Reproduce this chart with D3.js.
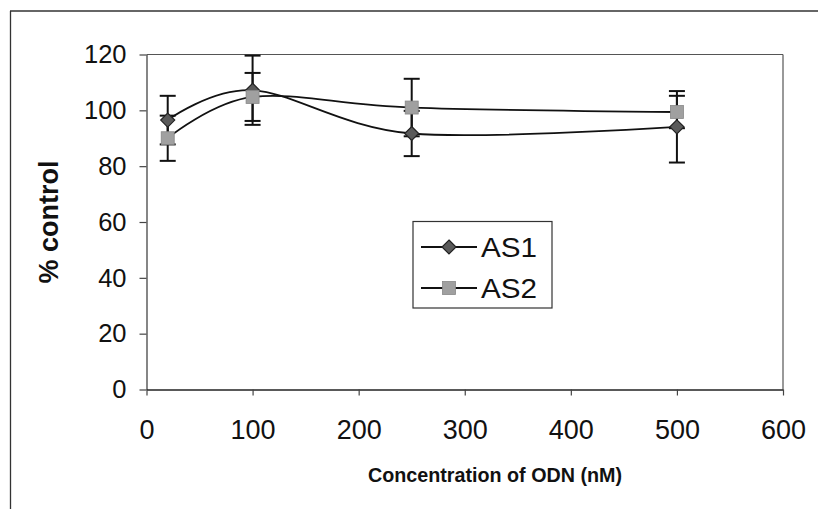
<!DOCTYPE html>
<html>
<head>
<meta charset="utf-8">
<script src="https://cdn.jsdelivr.net/npm/d3@7"></script>
<style>
  html, body { margin: 0; padding: 0; background: #fff; }
  svg { display: block; }
  text { font-family: "Liberation Sans", Arial, sans-serif; fill: #111; }
</style>
</head>
<body>
<svg id="chart" width="818" height="509"></svg>
<script>
// ---- data ----
const concentrations = [20, 100, 250, 500];
const as1Values = [96.5, 107.2, 91.7, 94.1];
const as1Errors = [8.7, 12.4, 8.1, 12.8];
const as2Values = [90, 104.8, 101, 99.4];
const as2Errors = [8.1, 8.6, 10.3, 5.8];
const seriesNames = ["AS1", "AS2"];
const xTicks = [0, 100, 200, 300, 400, 500, 600];
const yTicks = [0, 20, 40, 60, 80, 100, 120];
const xTitle = "Concentration of ODN (nM)";
const yTitle = "% control";

const series = [
  { name: seriesNames[0], values: as1Values, errors: as1Errors, marker: "diamond", fill: "#5a5a5a" },
  { name: seriesNames[1], values: as2Values, errors: as2Errors, marker: "square", fill: "#a0a0a0" }
];

const svg = d3.select("#chart");
const W = 818, H = 509;
const plot = { left: 146.5, right: 783, top: 54.5, bottom: 389.5 };

// outer frame (left and top edges)
svg.append("line").attr("x1", 10.5).attr("y1", 11).attr("x2", 10.5).attr("y2", H)
  .attr("stroke", "#333").attr("stroke-width", 1.3);
svg.append("line").attr("x1", 10).attr("y1", 11).attr("x2", W).attr("y2", 11)
  .attr("stroke", "#333").attr("stroke-width", 1.3);

const x = d3.scaleLinear().domain([0, 600]).range([plot.left, plot.right]);
const y = d3.scaleLinear().domain([0, 120]).range([plot.bottom, plot.top]);

// plot frame top/right
svg.append("line").attr("x1", plot.left).attr("y1", plot.top).attr("x2", plot.right).attr("y2", plot.top)
  .attr("stroke", "#555").attr("stroke-width", 1.2);
svg.append("line").attr("x1", plot.right).attr("y1", plot.top).attr("x2", plot.right).attr("y2", plot.bottom)
  .attr("stroke", "#555").attr("stroke-width", 1.2);

// y axis
const yAxis = svg.append("g").attr("transform", `translate(${plot.left},0)`)
  .call(d3.axisLeft(y).tickValues(yTicks).tickSize(7).tickSizeOuter(0).tickPadding(13));
yAxis.select(".domain").attr("stroke", "#444").attr("stroke-width", 1.3);
yAxis.selectAll(".tick line").attr("stroke", "#444").attr("stroke-width", 1.2);
yAxis.selectAll(".tick text").attr("font-size", 25.5).attr("fill", "#111")
  .style("font-family", "'Liberation Sans', Arial, sans-serif");

// x axis
const xAxis = svg.append("g").attr("transform", `translate(0,${plot.bottom})`)
  .call(d3.axisBottom(x).tickValues(xTicks).tickSize(6).tickSizeOuter(0).tickPadding(24));
xAxis.select(".domain").attr("stroke", "#222").attr("stroke-width", 1.5);
xAxis.selectAll(".tick line").attr("stroke", "#444").attr("stroke-width", 1.2);
xAxis.selectAll(".tick text").attr("font-size", 27).attr("fill", "#111")
  .style("font-family", "'Liberation Sans', Arial, sans-serif");

// axis titles
svg.append("text").attr("x", 495).attr("y", 482).attr("text-anchor", "middle")
  .attr("font-size", 21).attr("font-weight", "bold")
  .attr("textLength", 254).attr("lengthAdjust", "spacingAndGlyphs")
  .text(xTitle);
svg.append("text").attr("transform", "translate(58,222) rotate(-90)").attr("text-anchor", "middle")
  .attr("font-size", 27).attr("font-weight", "bold").text(yTitle);

// lines
const line = d3.line().x(d => x(d[0])).y(d => y(d[1])).curve(d3.curveCardinal.tension(0));

function drawMarker(g, type, cx, cy, fill) {
  if (type === "diamond") {
    const r = 7;
    g.append("path").attr("d", `M${cx},${cy - r}L${cx + r},${cy}L${cx},${cy + r}L${cx - r},${cy}Z`)
      .attr("fill", fill).attr("stroke", "#222").attr("stroke-width", 1.2);
  } else {
    const s = 13;
    g.append("rect").attr("x", cx - s / 2).attr("y", cy - s / 2).attr("width", s).attr("height", s)
      .attr("fill", fill).attr("stroke", "#888").attr("stroke-width", 0.8);
  }
}

series.forEach(s => {
  const pts = concentrations.map((c, i) => [c, s.values[i]]);
  svg.append("path").attr("d", line(pts)).attr("fill", "none")
    .attr("stroke", "#111").attr("stroke-width", 1.8);
});

// error bars
series.forEach(s => {
  const g = svg.append("g");
  concentrations.forEach((c, i) => {
    const cx = x(c);
    const top = y(s.values[i] + s.errors[i]);
    const bot = y(s.values[i] - s.errors[i]);
    g.append("line").attr("x1", cx).attr("x2", cx).attr("y1", top).attr("y2", bot)
      .attr("stroke", "#111").attr("stroke-width", 2);
    [top, bot].forEach(yy => {
      g.append("line").attr("x1", cx - 8).attr("x2", cx + 8).attr("y1", yy).attr("y2", yy)
        .attr("stroke", "#111").attr("stroke-width", 2);
    });
  });
});

// markers
series.forEach(s => {
  const g = svg.append("g");
  concentrations.forEach((c, i) => drawMarker(g, s.marker, x(c), y(s.values[i]), s.fill));
});

// legend
const lg = svg.append("g");
lg.append("rect").attr("x", 413).attr("y", 221.5).attr("width", 139).attr("height", 86.5)
  .attr("fill", "#fff").attr("stroke", "#333").attr("stroke-width", 1.2);
const legendRows = [247, 288];
series.forEach((s, i) => {
  const yy = legendRows[i];
  lg.append("line").attr("x1", 421).attr("x2", 477).attr("y1", yy).attr("y2", yy)
    .attr("stroke", "#111").attr("stroke-width", 1.8);
  drawMarker(lg, s.marker, 449, yy, s.fill);
  lg.append("text").attr("x", 481).attr("y", yy + 10).attr("font-size", 28)
    .attr("textLength", 56).attr("lengthAdjust", "spacingAndGlyphs").text(s.name);
});
</script>
</body>
</html>
